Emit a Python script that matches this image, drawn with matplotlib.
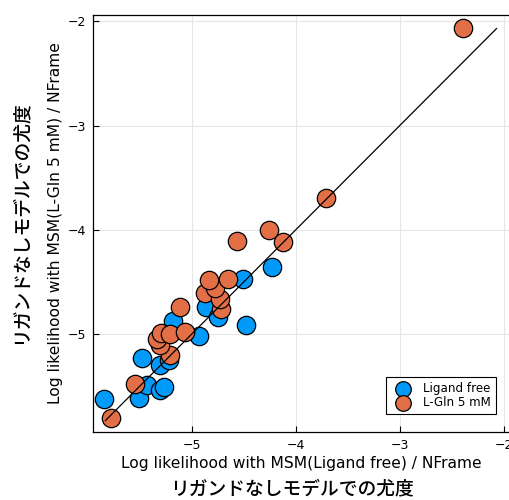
import numpy as np
import matplotlib.pyplot as plt

plt.rcParams['font.family'] = ['DejaVu Sans', 'Noto Sans CJK JP']

# Ligand free (x: ligand-free model, y: L-Gln 5 mM model)
free_x = [-5.84, -5.51, -5.43, -5.31, -5.27, -5.48, -5.31, -5.22, -5.18, -4.93,
          -4.86, -4.75, -4.51, -4.48, -4.23]
free_y = [-5.62, -5.61, -5.49, -5.54, -5.51, -5.23, -5.30, -5.25, -4.88, -5.02,
          -4.74, -4.84, -4.47, -4.91, -4.36]
# L-Gln 5 mM
gln_x = [-5.78, -5.55, -5.21, -5.31, -5.33, -5.30, -5.21, -5.07, -5.11, -4.87,
         -4.72, -4.73, -4.78, -4.83, -4.65, -4.57, -4.26, -4.12, -3.71, -2.39]
gln_y = [-5.81, -5.48, -5.20, -5.11, -5.05, -4.99, -5.00, -4.98, -4.74, -4.61,
         -4.76, -4.66, -4.56, -4.48, -4.47, -4.11, -4.00, -4.12, -3.70, -2.06]
diag = [-5.83, -2.07]
ticks = [-5, -4, -3, -2]

fig = plt.figure(figsize=(5.09, 5.00), dpi=100)
ax = fig.add_axes([93 / 509, 68 / 500, 416 / 509, 417 / 500])

ax.scatter(free_x, free_y, s=175, color='#009AFA', edgecolor='black', linewidth=0.9,
           label='Ligand free', zorder=2)
ax.scatter(gln_x, gln_y, s=175, color='#E36F47', edgecolor='black', linewidth=0.9,
           label='L-Gln 5 mM', zorder=2)
ax.plot(diag, diag, color='black', linewidth=0.9, zorder=3)

ax.set_xlim(-5.95, -1.95)
ax.set_ylim(-5.94, -1.94)
ax.set_xticks(ticks)
ax.set_yticks(ticks)
ax.set_xticklabels(['\u22125', '\u22124', '\u22123', '\u22122'])
ax.set_yticklabels(['\u22125', '\u22124', '\u22123', '\u22122'])
ax.grid(True, color='#e6e6e6', linewidth=0.8, zorder=0)
ax.set_axisbelow(True)
ax.tick_params(direction='in', length=4, width=0.8, labelsize=9, pad=5)
for sp in ax.spines.values():
    sp.set_linewidth(0.9)
ax.spines['right'].set_visible(False)

ax.set_xlabel('Log likelihood with MSM(Ligand free) / NFrame', fontsize=11.2, labelpad=3)
ax.set_ylabel('Log likelihood with MSM(L-Gln 5 mM) / NFrame', fontsize=11.2, labelpad=3)

fig.text(292 / 509, 1 - 489 / 500, 'リガンドなしモデルでの尤度', fontsize=13.5,
         fontweight='medium', ha='center', va='center',
         family=['Noto Sans CJK JP', 'DejaVu Sans'])
fig.text(20 / 509, 1 - 222 / 500, 'リガンドなしモデルでの尤度', fontsize=13.5,
         fontweight='medium', rotation=90, ha='center', va='center',
         family=['Noto Sans CJK JP', 'DejaVu Sans'])

leg = ax.legend(loc='lower right', fontsize=8.6, fancybox=False, framealpha=1,
                edgecolor='black', handletextpad=0.7, borderpad=0.4,
                labelspacing=0.05, markerscale=0.85, bbox_to_anchor=(0.983, 0.03))
leg.get_frame().set_linewidth(0.8)

plt.savefig('out.png', dpi=100)
